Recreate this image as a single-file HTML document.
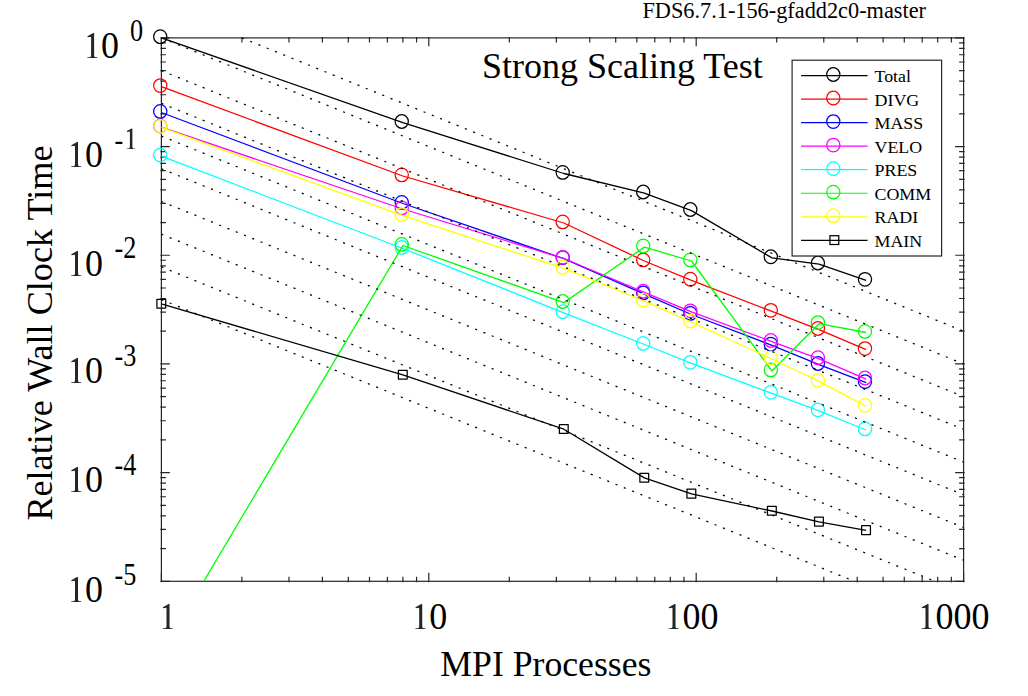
<!DOCTYPE html>
<html><head><meta charset="utf-8"><title>Strong Scaling Test</title>
<style>
html,body{margin:0;padding:0;background:#fff;}
body{width:1028px;height:696px;overflow:hidden;}
svg{display:block;}
text{font-family:"Liberation Serif",serif;fill:#000000;}
</style></head><body>
<svg width="1028" height="696" viewBox="0 0 1028 696">
<rect x="0" y="0" width="1028" height="696" fill="#ffffff"/>
<defs><clipPath id="pc"><rect x="161.40" y="37.90" width="802.20" height="543.40"/></clipPath>
<path id="one" d="M243 1240L575 1420H627V170Q627 76 662 56Q702 40 806 38V0H243V38Q372 40 417 56Q455 76 455 170V1146Q455 1214 408 1214Q360 1214 262 1178Z"/></defs>
<g stroke="#262626" stroke-width="1.20" fill="none" stroke-linecap="butt">
<rect x="161.40" y="37.90" width="802.20" height="543.40"/>
<path d="M161.40 582.30V572.85M161.40 36.90V46.35M241.90 582.30V576.80M241.90 36.90V42.40M288.98 582.30V576.80M288.98 36.90V42.40M322.39 582.30V576.80M322.39 36.90V42.40M348.30 582.30V576.80M348.30 36.90V42.40M369.48 582.30V576.80M369.48 36.90V42.40M387.38 582.30V576.80M387.38 36.90V42.40M402.89 582.30V576.80M402.89 36.90V42.40M416.56 582.30V576.80M416.56 36.90V42.40M428.80 582.30V572.85M428.80 36.90V46.35M509.30 582.30V576.80M509.30 36.90V42.40M556.38 582.30V576.80M556.38 36.90V42.40M589.79 582.30V576.80M589.79 36.90V42.40M615.70 582.30V576.80M615.70 36.90V42.40M636.88 582.30V576.80M636.88 36.90V42.40M654.78 582.30V576.80M654.78 36.90V42.40M670.29 582.30V576.80M670.29 36.90V42.40M683.96 582.30V576.80M683.96 36.90V42.40M696.20 582.30V572.85M696.20 36.90V46.35M776.70 582.30V576.80M776.70 36.90V42.40M823.78 582.30V576.80M823.78 36.90V42.40M857.19 582.30V576.80M857.19 36.90V42.40M883.10 582.30V576.80M883.10 36.90V42.40M904.28 582.30V576.80M904.28 36.90V42.40M922.18 582.30V576.80M922.18 36.90V42.40M937.69 582.30V576.80M937.69 36.90V42.40M951.36 582.30V576.80M951.36 36.90V42.40M963.60 582.30V572.85M963.60 36.90V46.35M160.40 37.90H169.85M964.60 37.90H955.15M160.40 146.58H169.85M964.60 146.58H955.15M160.40 113.86H165.90M964.60 113.86H959.10M160.40 94.73H165.90M964.60 94.73H959.10M160.40 81.15H165.90M964.60 81.15H959.10M160.40 70.62H165.90M964.60 70.62H959.10M160.40 62.01H165.90M964.60 62.01H959.10M160.40 54.73H165.90M964.60 54.73H959.10M160.40 48.43H165.90M964.60 48.43H959.10M160.40 42.87H165.90M964.60 42.87H959.10M160.40 255.26H169.85M964.60 255.26H955.15M160.40 222.54H165.90M964.60 222.54H959.10M160.40 203.41H165.90M964.60 203.41H959.10M160.40 189.83H165.90M964.60 189.83H959.10M160.40 179.30H165.90M964.60 179.30H959.10M160.40 170.69H165.90M964.60 170.69H959.10M160.40 163.41H165.90M964.60 163.41H959.10M160.40 157.11H165.90M964.60 157.11H959.10M160.40 151.55H165.90M964.60 151.55H959.10M160.40 363.94H169.85M964.60 363.94H955.15M160.40 331.22H165.90M964.60 331.22H959.10M160.40 312.09H165.90M964.60 312.09H959.10M160.40 298.51H165.90M964.60 298.51H959.10M160.40 287.98H165.90M964.60 287.98H959.10M160.40 279.37H165.90M964.60 279.37H959.10M160.40 272.09H165.90M964.60 272.09H959.10M160.40 265.79H165.90M964.60 265.79H959.10M160.40 260.23H165.90M964.60 260.23H959.10M160.40 472.62H169.85M964.60 472.62H955.15M160.40 439.90H165.90M964.60 439.90H959.10M160.40 420.77H165.90M964.60 420.77H959.10M160.40 407.19H165.90M964.60 407.19H959.10M160.40 396.66H165.90M964.60 396.66H959.10M160.40 388.05H165.90M964.60 388.05H959.10M160.40 380.77H165.90M964.60 380.77H959.10M160.40 374.47H165.90M964.60 374.47H959.10M160.40 368.91H165.90M964.60 368.91H959.10M160.40 581.30H169.85M964.60 581.30H955.15M160.40 548.58H165.90M964.60 548.58H959.10M160.40 529.45H165.90M964.60 529.45H959.10M160.40 515.87H165.90M964.60 515.87H959.10M160.40 505.34H165.90M964.60 505.34H959.10M160.40 496.73H165.90M964.60 496.73H959.10M160.40 489.45H165.90M964.60 489.45H959.10M160.40 483.15H165.90M964.60 483.15H959.10M160.40 477.59H165.90M964.60 477.59H959.10"/>
</g>
<g fill="none" stroke-width="1.30" stroke-linejoin="round">
<polyline clip-path="url(#pc)" stroke="#000000" points="161.40,37.80 402.89,122.60 563.88,173.50 644.37,193.10 691.46,210.60 771.95,257.90 819.04,264.10 866.13,280.40"/>
<ellipse cx="160.25" cy="36.70" rx="6.60" ry="6.80" stroke="#000000" stroke-width="1.25"/>
<ellipse cx="401.74" cy="121.50" rx="6.60" ry="6.80" stroke="#000000" stroke-width="1.25"/>
<ellipse cx="562.73" cy="172.40" rx="6.60" ry="6.80" stroke="#000000" stroke-width="1.25"/>
<ellipse cx="643.22" cy="192.00" rx="6.60" ry="6.80" stroke="#000000" stroke-width="1.25"/>
<ellipse cx="690.31" cy="209.50" rx="6.60" ry="6.80" stroke="#000000" stroke-width="1.25"/>
<ellipse cx="770.80" cy="256.80" rx="6.60" ry="6.80" stroke="#000000" stroke-width="1.25"/>
<ellipse cx="817.89" cy="263.00" rx="6.60" ry="6.80" stroke="#000000" stroke-width="1.25"/>
<ellipse cx="864.98" cy="279.30" rx="6.60" ry="6.80" stroke="#000000" stroke-width="1.25"/>
<polyline clip-path="url(#pc)" stroke="#ff0000" points="161.40,86.70 402.89,176.00 563.88,223.00 644.37,261.00 691.46,280.30 771.95,311.40 819.04,329.60 866.13,349.70"/>
<ellipse cx="160.25" cy="85.60" rx="6.60" ry="6.80" stroke="#ff0000" stroke-width="1.25"/>
<ellipse cx="401.74" cy="174.90" rx="6.60" ry="6.80" stroke="#ff0000" stroke-width="1.25"/>
<ellipse cx="562.73" cy="221.90" rx="6.60" ry="6.80" stroke="#ff0000" stroke-width="1.25"/>
<ellipse cx="643.22" cy="259.90" rx="6.60" ry="6.80" stroke="#ff0000" stroke-width="1.25"/>
<ellipse cx="690.31" cy="279.20" rx="6.60" ry="6.80" stroke="#ff0000" stroke-width="1.25"/>
<ellipse cx="770.80" cy="310.30" rx="6.60" ry="6.80" stroke="#ff0000" stroke-width="1.25"/>
<ellipse cx="817.89" cy="328.50" rx="6.60" ry="6.80" stroke="#ff0000" stroke-width="1.25"/>
<ellipse cx="864.98" cy="348.60" rx="6.60" ry="6.80" stroke="#ff0000" stroke-width="1.25"/>
<polyline clip-path="url(#pc)" stroke="#0000ff" points="161.40,112.50 402.89,203.50 563.88,258.70 644.37,294.10 691.46,314.50 771.95,345.30 819.04,364.60 866.13,382.70"/>
<ellipse cx="160.25" cy="111.40" rx="6.60" ry="6.80" stroke="#0000ff" stroke-width="1.25"/>
<ellipse cx="401.74" cy="202.40" rx="6.60" ry="6.80" stroke="#0000ff" stroke-width="1.25"/>
<ellipse cx="562.73" cy="257.60" rx="6.60" ry="6.80" stroke="#0000ff" stroke-width="1.25"/>
<ellipse cx="643.22" cy="293.00" rx="6.60" ry="6.80" stroke="#0000ff" stroke-width="1.25"/>
<ellipse cx="690.31" cy="313.40" rx="6.60" ry="6.80" stroke="#0000ff" stroke-width="1.25"/>
<ellipse cx="770.80" cy="344.20" rx="6.60" ry="6.80" stroke="#0000ff" stroke-width="1.25"/>
<ellipse cx="817.89" cy="363.50" rx="6.60" ry="6.80" stroke="#0000ff" stroke-width="1.25"/>
<ellipse cx="864.98" cy="381.60" rx="6.60" ry="6.80" stroke="#0000ff" stroke-width="1.25"/>
<polyline clip-path="url(#pc)" stroke="#ff00ff" points="161.40,127.20 402.89,209.00 563.88,258.50 644.37,292.30 691.46,311.90 771.95,341.60 819.04,358.80 866.13,379.10"/>
<ellipse cx="160.25" cy="126.10" rx="6.60" ry="6.80" stroke="#ff00ff" stroke-width="1.25"/>
<ellipse cx="401.74" cy="207.90" rx="6.60" ry="6.80" stroke="#ff00ff" stroke-width="1.25"/>
<ellipse cx="562.73" cy="257.40" rx="6.60" ry="6.80" stroke="#ff00ff" stroke-width="1.25"/>
<ellipse cx="643.22" cy="291.20" rx="6.60" ry="6.80" stroke="#ff00ff" stroke-width="1.25"/>
<ellipse cx="690.31" cy="310.80" rx="6.60" ry="6.80" stroke="#ff00ff" stroke-width="1.25"/>
<ellipse cx="770.80" cy="340.50" rx="6.60" ry="6.80" stroke="#ff00ff" stroke-width="1.25"/>
<ellipse cx="817.89" cy="357.70" rx="6.60" ry="6.80" stroke="#ff00ff" stroke-width="1.25"/>
<ellipse cx="864.98" cy="378.00" rx="6.60" ry="6.80" stroke="#ff00ff" stroke-width="1.25"/>
<polyline clip-path="url(#pc)" stroke="#00ffff" points="161.40,156.20 402.89,248.50 563.88,312.80 644.37,344.50 691.46,363.40 771.95,393.40 819.04,410.90 866.13,430.00"/>
<ellipse cx="160.25" cy="155.10" rx="6.60" ry="6.80" stroke="#00ffff" stroke-width="1.25"/>
<ellipse cx="401.74" cy="247.40" rx="6.60" ry="6.80" stroke="#00ffff" stroke-width="1.25"/>
<ellipse cx="562.73" cy="311.70" rx="6.60" ry="6.80" stroke="#00ffff" stroke-width="1.25"/>
<ellipse cx="643.22" cy="343.40" rx="6.60" ry="6.80" stroke="#00ffff" stroke-width="1.25"/>
<ellipse cx="690.31" cy="362.30" rx="6.60" ry="6.80" stroke="#00ffff" stroke-width="1.25"/>
<ellipse cx="770.80" cy="392.30" rx="6.60" ry="6.80" stroke="#00ffff" stroke-width="1.25"/>
<ellipse cx="817.89" cy="409.80" rx="6.60" ry="6.80" stroke="#00ffff" stroke-width="1.25"/>
<ellipse cx="864.98" cy="428.90" rx="6.60" ry="6.80" stroke="#00ffff" stroke-width="1.25"/>
<polyline clip-path="url(#pc)" stroke="#00ff00" points="161.40,652.82 402.89,245.50 563.88,302.60 644.37,247.10 691.46,261.00 771.95,371.00 819.04,323.70 866.13,332.50"/>
<ellipse cx="401.74" cy="244.40" rx="6.60" ry="6.80" stroke="#00ff00" stroke-width="1.25"/>
<ellipse cx="562.73" cy="301.50" rx="6.60" ry="6.80" stroke="#00ff00" stroke-width="1.25"/>
<ellipse cx="643.22" cy="246.00" rx="6.60" ry="6.80" stroke="#00ff00" stroke-width="1.25"/>
<ellipse cx="690.31" cy="259.90" rx="6.60" ry="6.80" stroke="#00ff00" stroke-width="1.25"/>
<ellipse cx="770.80" cy="369.90" rx="6.60" ry="6.80" stroke="#00ff00" stroke-width="1.25"/>
<ellipse cx="817.89" cy="322.60" rx="6.60" ry="6.80" stroke="#00ff00" stroke-width="1.25"/>
<ellipse cx="864.98" cy="331.40" rx="6.60" ry="6.80" stroke="#00ff00" stroke-width="1.25"/>
<polyline clip-path="url(#pc)" stroke="#ffff00" points="161.40,127.40 402.89,215.70 563.88,268.30 644.37,301.20 691.46,322.10 771.95,359.00 819.04,381.40 866.13,406.40"/>
<ellipse cx="160.25" cy="126.30" rx="6.60" ry="6.80" stroke="#ffff00" stroke-width="1.25"/>
<ellipse cx="401.74" cy="214.60" rx="6.60" ry="6.80" stroke="#ffff00" stroke-width="1.25"/>
<ellipse cx="562.73" cy="267.20" rx="6.60" ry="6.80" stroke="#ffff00" stroke-width="1.25"/>
<ellipse cx="643.22" cy="300.10" rx="6.60" ry="6.80" stroke="#ffff00" stroke-width="1.25"/>
<ellipse cx="690.31" cy="321.00" rx="6.60" ry="6.80" stroke="#ffff00" stroke-width="1.25"/>
<ellipse cx="770.80" cy="357.90" rx="6.60" ry="6.80" stroke="#ffff00" stroke-width="1.25"/>
<ellipse cx="817.89" cy="380.30" rx="6.60" ry="6.80" stroke="#ffff00" stroke-width="1.25"/>
<ellipse cx="864.98" cy="405.30" rx="6.60" ry="6.80" stroke="#ffff00" stroke-width="1.25"/>
<polyline clip-path="url(#pc)" stroke="#000000" points="161.40,303.90 402.89,374.90 563.88,429.20 644.37,477.90 691.46,493.80 771.95,511.00 819.04,521.80 866.13,530.30"/>
<rect x="156.90" y="299.30" width="8.80" height="8.80" stroke="#000000" stroke-width="1.25"/>
<rect x="398.39" y="370.30" width="8.80" height="8.80" stroke="#000000" stroke-width="1.25"/>
<rect x="559.38" y="424.60" width="8.80" height="8.80" stroke="#000000" stroke-width="1.25"/>
<rect x="639.87" y="473.30" width="8.80" height="8.80" stroke="#000000" stroke-width="1.25"/>
<rect x="686.96" y="489.20" width="8.80" height="8.80" stroke="#000000" stroke-width="1.25"/>
<rect x="767.45" y="506.40" width="8.80" height="8.80" stroke="#000000" stroke-width="1.25"/>
<rect x="814.54" y="517.20" width="8.80" height="8.80" stroke="#000000" stroke-width="1.25"/>
<rect x="861.63" y="525.70" width="8.80" height="8.80" stroke="#000000" stroke-width="1.25"/>
</g>
<g clip-path="url(#pc)" stroke="#000" stroke-width="1.25" stroke-dasharray="2.1 6.813" fill="none">
<line x1="241.90" y1="37.90" x2="963.60" y2="331.22"/>
<line x1="161.40" y1="37.90" x2="963.60" y2="363.94"/>
<line x1="161.40" y1="70.62" x2="963.60" y2="396.66"/>
<line x1="161.40" y1="103.33" x2="963.60" y2="429.37"/>
<line x1="161.40" y1="136.05" x2="963.60" y2="462.09"/>
<line x1="161.40" y1="168.76" x2="963.60" y2="494.80"/>
<line x1="161.40" y1="201.48" x2="963.60" y2="527.52"/>
<line x1="161.40" y1="234.20" x2="963.60" y2="560.24"/>
<line x1="161.40" y1="266.91" x2="963.60" y2="592.95"/>
<line x1="161.40" y1="299.63" x2="963.60" y2="625.67"/>
</g>
<rect x="792.10" y="60.20" width="149.50" height="195.80" fill="#fff" stroke="#262626" stroke-width="1.20"/>
<g fill="none" stroke-width="1.20">
<line x1="801.0" y1="75.60" x2="867.6" y2="75.60" stroke="#000000"/>
<ellipse cx="833.30" cy="74.50" rx="6.60" ry="6.80" stroke="#000000" stroke-width="1.25"/>
<line x1="801.0" y1="99.13" x2="867.6" y2="99.13" stroke="#ff0000"/>
<ellipse cx="833.30" cy="98.03" rx="6.60" ry="6.80" stroke="#ff0000" stroke-width="1.25"/>
<line x1="801.0" y1="122.66" x2="867.6" y2="122.66" stroke="#0000ff"/>
<ellipse cx="833.30" cy="121.56" rx="6.60" ry="6.80" stroke="#0000ff" stroke-width="1.25"/>
<line x1="801.0" y1="146.19" x2="867.6" y2="146.19" stroke="#ff00ff"/>
<ellipse cx="833.30" cy="145.09" rx="6.60" ry="6.80" stroke="#ff00ff" stroke-width="1.25"/>
<line x1="801.0" y1="169.72" x2="867.6" y2="169.72" stroke="#00ffff"/>
<ellipse cx="833.30" cy="168.62" rx="6.60" ry="6.80" stroke="#00ffff" stroke-width="1.25"/>
<line x1="801.0" y1="193.25" x2="867.6" y2="193.25" stroke="#00ff00"/>
<ellipse cx="833.30" cy="192.15" rx="6.60" ry="6.80" stroke="#00ff00" stroke-width="1.25"/>
<line x1="801.0" y1="216.78" x2="867.6" y2="216.78" stroke="#ffff00"/>
<ellipse cx="833.30" cy="215.68" rx="6.60" ry="6.80" stroke="#ffff00" stroke-width="1.25"/>
<line x1="801.0" y1="240.31" x2="867.6" y2="240.31" stroke="#000000"/>
<rect x="829.95" y="235.71" width="8.80" height="8.80" stroke="#000000" stroke-width="1.25"/>
</g>
<g font-size="18px">
<text transform="translate(874.5,82) scale(0.995,0.935)">Total</text>
<text transform="translate(874.5,106) scale(0.995,0.935)">DIVG</text>
<text transform="translate(874.5,129) scale(0.995,0.935)">MASS</text>
<text transform="translate(874.5,153) scale(0.995,0.935)">VELO</text>
<text transform="translate(874.5,176) scale(0.995,0.935)">PRES</text>
<text transform="translate(874.5,200) scale(0.995,0.935)">COMM</text>
<text transform="translate(874.5,223) scale(0.995,0.935)">RADI</text>
<text transform="translate(874.5,247) scale(0.995,0.935)">MAIN</text>
</g>
<text x="642.4" y="18" font-size="22.3px">FDS6.7.1-156-gfadd2c0-master</text>
<text x="482" y="78" font-size="36px">Strong Scaling Test</text>
<text x="440.3" y="676" font-size="35.7px" fill="#262626">MPI Processes</text>
<text transform="translate(52.0,520.6) rotate(-90)" font-size="36.17px" fill="#262626">Relative Wall Clock Time</text>
<use href="#one" transform="translate(158.50,629.00) scale(0.01758,-0.01758)" fill="#262626"/>
<use href="#one" transform="translate(411.20,629.00) scale(0.01758,-0.01758)" fill="#262626"/><text transform="translate(429.20,629.00) scale(1.000,1.028)" font-size="36px" fill="#262626">0</text>
<use href="#one" transform="translate(664.50,629.00) scale(0.01758,-0.01758)" fill="#262626"/><text transform="translate(682.50,629.00) scale(1.000,1.028)" font-size="36px" fill="#262626">00</text>
<use href="#one" transform="translate(917.50,629.00) scale(0.01758,-0.01758)" fill="#262626"/><text transform="translate(935.50,629.00) scale(1.000,1.028)" font-size="36px" fill="#262626">000</text>
<use href="#one" transform="translate(83.10,58.00) scale(0.01758,-0.01758)" fill="#262626"/><text transform="translate(101.10,58.00) scale(1.000,1.028)" font-size="36px" fill="#262626">0</text>
<text transform="translate(130.00,40.50) scale(0.885,1.050)" font-size="29.6px" fill="#262626">0</text>
<use href="#one" transform="translate(67.00,167.00) scale(0.01758,-0.01758)" fill="#262626"/><text transform="translate(85.00,167.00) scale(1.000,1.028)" font-size="36px" fill="#262626">0</text>
<text transform="translate(114.50,149.50) scale(0.885,1.015)" font-size="29.6px" fill="#262626">-</text>
<use href="#one" transform="translate(123.32,149.00) scale(0.01445,-0.01445)" fill="#262626"/>
<use href="#one" transform="translate(67.00,276.00) scale(0.01758,-0.01758)" fill="#262626"/><text transform="translate(85.00,276.00) scale(1.000,1.028)" font-size="36px" fill="#262626">0</text>
<text transform="translate(114.50,258.20) scale(0.885,1.050)" font-size="29.6px" fill="#262626">-2</text>
<use href="#one" transform="translate(67.00,383.00) scale(0.01758,-0.01758)" fill="#262626"/><text transform="translate(85.00,383.00) scale(1.000,1.028)" font-size="36px" fill="#262626">0</text>
<text transform="translate(114.50,365.60) scale(0.885,1.050)" font-size="29.6px" fill="#262626">-3</text>
<use href="#one" transform="translate(67.00,492.00) scale(0.01758,-0.01758)" fill="#262626"/><text transform="translate(85.00,492.00) scale(1.000,1.028)" font-size="36px" fill="#262626">0</text>
<text transform="translate(114.50,475.00) scale(0.885,1.050)" font-size="29.6px" fill="#262626">-4</text>
<use href="#one" transform="translate(67.00,602.00) scale(0.01758,-0.01758)" fill="#262626"/><text transform="translate(85.00,602.00) scale(1.000,1.028)" font-size="36px" fill="#262626">0</text>
<text transform="translate(114.50,585.00) scale(0.885,1.050)" font-size="29.6px" fill="#262626">-5</text>
</svg>
</body></html>
